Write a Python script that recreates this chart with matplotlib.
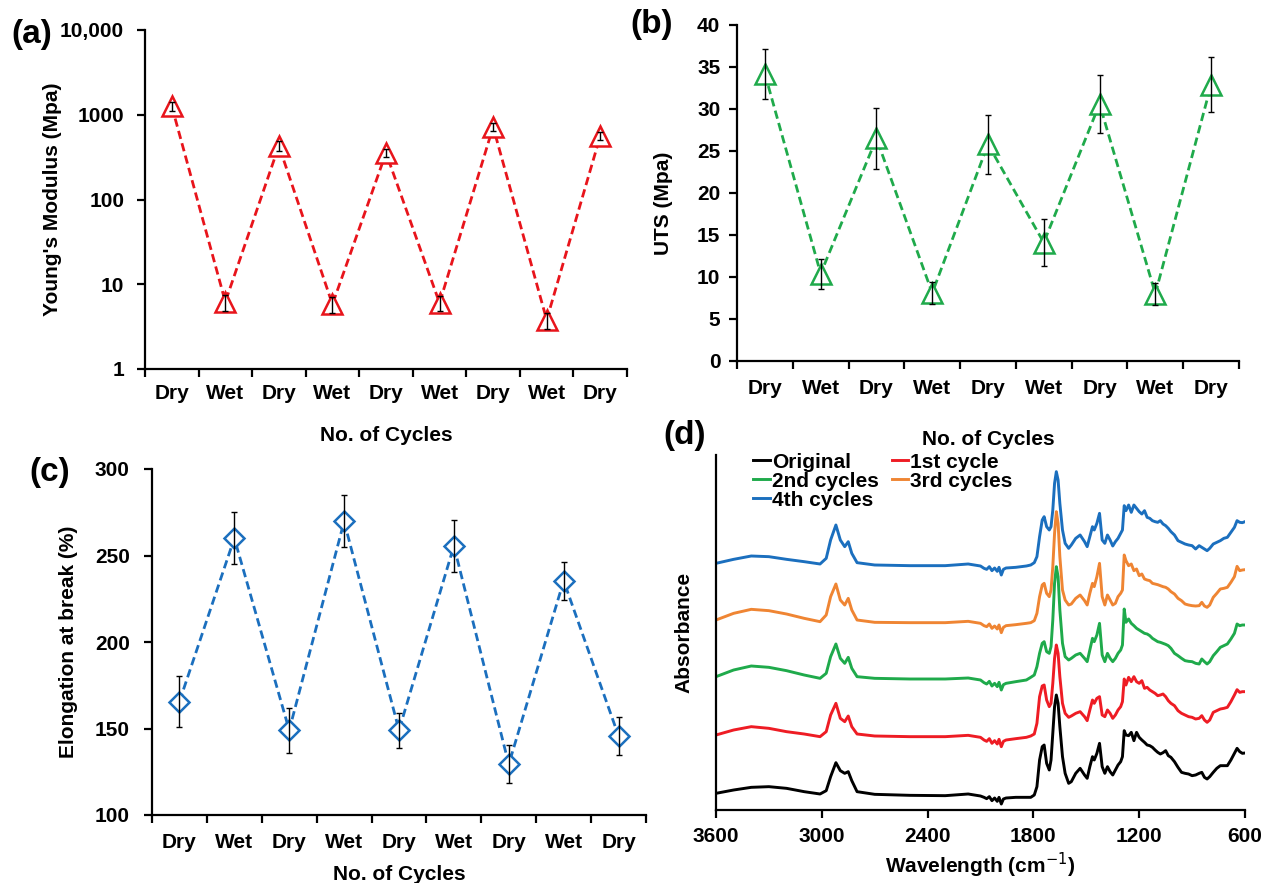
import numpy as np
import matplotlib
matplotlib.use('Agg')
import matplotlib.pyplot as plt
import matplotlib.ticker as mticker

plt.rcParams['font.family'] = ['Liberation Sans', 'DejaVu Sans']
plt.rcParams['axes.linewidth'] = 1.6

W, H = 1263, 883

# ---- data ----
cycles = ['Dry', 'Wet', 'Dry', 'Wet', 'Dry', 'Wet', 'Dry', 'Wet', 'Dry']

modulus = [1260, 6.2, 430, 5.8, 355, 6.0, 720, 3.8, 560]
modulus_err = [150, 1.3, 60, 1.2, 40, 1.2, 80, 0.8, 60]

uts = [34.2, 10.4, 26.5, 8.1, 25.8, 14.1, 30.6, 8.0, 32.9]
uts_err = [3.0, 1.8, 3.6, 1.3, 3.5, 2.8, 3.4, 1.3, 3.3]

elong = [165.6, 260.0, 149.0, 269.7, 149.0, 255.6, 129.3, 235.4, 145.7]
elong_err = [15, 15, 13, 15, 10, 15, 11, 11, 11]

# FTIR spectra, stacked (absorbance, arbitrary units)
wavenumber = [3600, 3500, 3400, 3300, 3200, 3100, 3010, 2975,
              2950, 2920, 2895, 2870, 2850, 2830, 2800, 2700,
              2500, 2300, 2170, 2100, 2080, 2065, 2050, 2035,
              2020, 2005, 1995, 1982, 1970, 1955, 1900, 1840,
              1815, 1795, 1780, 1765, 1750, 1739, 1725, 1710,
              1700, 1690, 1680, 1670, 1660, 1650, 1635, 1620,
              1600, 1585, 1560, 1535, 1510, 1495, 1480, 1465,
              1455, 1440, 1425, 1410, 1395, 1380, 1365, 1350,
              1335, 1320, 1305, 1295, 1285, 1275, 1260, 1245,
              1230, 1215, 1200, 1185, 1170, 1155, 1140, 1125,
              1110, 1095, 1080, 1065, 1050, 1035, 1020, 1000,
              980, 960, 940, 920, 900, 880, 860, 845,
              830, 815, 800, 780, 760, 740, 720, 700,
              680, 660, 645, 630, 615, 600]

original = [50, 60, 68, 70, 65, 55, 48, 58,
            100, 142, 118, 110, 115, 88, 55, 47,
            44, 43, 48, 42, 38, 34, 40, 28,
            36, 26, 38, 18, 33, 36, 38, 38,
            38, 45, 70, 150, 190, 195, 140, 120,
            150, 230, 310, 345, 320, 250, 160, 110,
            80, 85, 110, 125, 105, 95, 130, 160,
            150, 170, 200, 130, 110, 130, 115, 105,
            120, 135, 145, 160, 238, 225, 223, 233,
            208, 233, 218, 210, 203, 195, 193, 188,
            180, 173, 168, 172, 178, 163, 158, 145,
            128, 113, 110, 108, 103, 105, 110, 113,
            98, 93, 100, 113, 125, 133, 133, 133,
            150, 170, 185, 175, 170, 171]

cycle1 = [225, 240, 250, 245, 235, 228, 220, 235,
          285, 320, 275, 265, 282, 250, 228, 222,
          220, 220, 224, 218, 210, 206, 214, 200,
          208, 198, 212, 190, 206, 210, 214, 218,
          222, 228, 260, 340, 372, 375, 330, 310,
          320, 380, 455, 495, 470, 400, 320, 290,
          278, 282, 290, 295, 280, 268, 300, 330,
          320, 335, 340, 285, 280, 300, 290, 275,
          285, 300, 310, 325, 393, 375, 398, 385,
          400, 385, 380, 388, 365, 368, 360, 355,
          350, 343, 345, 348, 340, 328, 320, 313,
          298, 290, 285, 280, 278, 273, 275, 283,
          270, 263, 270, 293, 298, 303, 305, 308,
          325, 345, 361, 353, 355, 355]

cycle2 = [400, 420, 432, 428, 418, 405, 395, 410,
          460, 498, 455, 440, 458, 425, 400, 395,
          393, 393, 396, 390, 382, 378, 386, 372,
          380, 370, 383, 360, 376, 380, 385, 390,
          398, 405, 430, 470, 500, 505, 475, 470,
          490, 570, 680, 730, 700, 600, 500, 460,
          450, 455, 465, 470, 455, 445, 480, 515,
          505, 525, 560, 465, 445, 470, 455, 445,
          455, 470, 480, 495, 603, 563, 573, 560,
          553, 545, 540, 535, 530, 528, 523, 515,
          510, 505, 503, 500, 497, 493, 485, 470,
          463, 455, 448, 446, 445, 440, 438, 453,
          445, 438, 445, 463, 475, 488, 493, 498,
          513, 530, 558, 553, 555, 555]

cycle3 = [570, 590, 602, 598, 588, 575, 565, 585,
          640, 678, 630, 615, 635, 600, 570, 563,
          562, 562, 566, 560, 553, 550, 558, 545,
          552, 543, 555, 532, 548, 553, 556, 560,
          562, 568, 590, 640, 675, 680, 650, 640,
          660, 730, 830, 895, 860, 760, 660, 630,
          615, 618, 635, 645, 628, 615, 650, 680,
          670, 700, 740, 640, 615, 645, 630, 615,
          620, 640, 650, 660, 765, 748, 733, 738,
          718, 723, 703, 708, 693, 690, 688, 680,
          678, 676, 673, 670, 668, 663, 655, 648,
          635, 628, 618, 615, 613, 612, 613, 623,
          612, 608, 615, 638, 650, 663, 665, 668,
          683, 700, 731, 718, 720, 721]

cycle4 = [740, 752, 762, 760, 752, 745, 738, 755,
          810, 855, 810, 790, 805, 770, 742, 735,
          733, 733, 738, 732, 725, 722, 730, 718,
          726, 716, 728, 705, 722, 726, 728, 732,
          735, 742, 760, 820, 870, 880, 850, 840,
          850, 900, 980, 1015, 990, 920, 840, 800,
          785, 795, 815, 825, 805, 790, 820, 850,
          840, 860, 890, 810, 800, 825, 810, 792,
          805, 815, 830, 840, 913, 898, 915, 893,
          915, 905, 895, 888, 898, 878, 875, 868,
          865, 863, 868, 858, 853, 845, 835, 825,
          808, 803, 798, 795, 793, 783, 793, 788,
          783, 778, 785, 798, 803, 808, 815, 818,
          833, 848, 868, 863, 862, 865]

spectra = [('Original', original, 'black'),
           ('2nd cycles', cycle2, '#1FAA4B'),
           ('4th cycles', cycle4, '#1B6FBE'),
           ('1st cycle', cycle1, '#EE1C24'),
           ('3rd cycles', cycle3, '#EF8533')]

TICK_FS = 15
LAB_FS = 15


def axes_px(left, top, right, bottom):
    return [left / W, 1 - bottom / H, (right - left) / W, (bottom - top) / H]


def cycle_axis(ax, ypad, xpad):
    x = np.arange(1, len(cycles) + 1)
    ax.set_xlim(0.5, len(cycles) + 0.5)
    ax.set_xticks(np.arange(0.5, len(cycles) + 1, 1))
    ax.set_xticklabels([])
    ax.set_xticks(x, minor=True)
    ax.set_xticklabels(cycles, minor=True, fontsize=TICK_FS, fontweight='bold')
    ax.tick_params(axis='x', which='major', direction='out', length=6, width=1.6)
    ax.tick_params(axis='x', which='minor', length=0, pad=xpad)
    ax.tick_params(axis='y', direction='out', length=6, width=1.6,
                   labelsize=TICK_FS, pad=ypad)
    for lab in ax.get_yticklabels():
        lab.set_fontweight('bold')
    ax.spines['top'].set_visible(False)
    ax.spines['right'].set_visible(False)
    return x


fig = plt.figure(figsize=(W / 100, H / 100), dpi=100)

# (a) Young's modulus
ax_a = fig.add_axes(axes_px(145, 30, 627, 369))
ax_a.set_yscale('log')
ax_a.set_ylim(1, 10000)
ax_a.set_yticks([1, 10, 100, 1000, 10000])
ax_a.set_yticklabels(['1', '10', '100', '1000', '10,000'])
ax_a.yaxis.set_minor_locator(mticker.NullLocator())
x = cycle_axis(ax_a, 9, 11)
ax_a.plot(x, modulus, ls='--', color='#E8141B', lw=2, dashes=(3, 1.6),
          marker='^', ms=14, mfc='white', mec='#E8141B', mew=1.8, zorder=3)
ax_a.errorbar(x, modulus, yerr=modulus_err, fmt='none', ecolor='black',
              elinewidth=1, capsize=2, zorder=4)
ax_a.set_ylabel("Young's Modulus (Mpa)", fontsize=LAB_FS, fontweight='bold')
ax_a.yaxis.set_label_coords(-0.172, 0.5)
ax_a.set_xlabel('No. of Cycles', fontsize=LAB_FS, fontweight='bold')
ax_a.xaxis.set_label_coords(0.5, -0.168)

# (b) UTS
ax_b = fig.add_axes(axes_px(737, 25, 1239, 361))
ax_b.set_ylim(0, 40)
ax_b.set_yticks(np.arange(0, 41, 5))
x = cycle_axis(ax_b, 6, 13)
ax_b.plot(x, uts, ls='--', color='#1FAA4B', lw=2, dashes=(3, 1.6),
          marker='^', ms=14, mfc='white', mec='#1FAA4B', mew=1.8, zorder=3)
ax_b.errorbar(x, uts, yerr=uts_err, fmt='none', ecolor='black',
              elinewidth=1, capsize=2, zorder=4)
ax_b.set_ylabel('UTS (Mpa)', fontsize=LAB_FS, fontweight='bold')
ax_b.yaxis.set_label_coords(-0.127, 0.47)
ax_b.set_xlabel('No. of Cycles', fontsize=LAB_FS, fontweight='bold')
ax_b.xaxis.set_label_coords(0.5, -0.205)

# (c) Elongation at break
ax_c = fig.add_axes(axes_px(152, 469, 646, 815))
ax_c.set_ylim(100, 300)
ax_c.set_yticks(np.arange(100, 301, 50))
x = cycle_axis(ax_c, 10, 13)
ax_c.plot(x, elong, ls='--', color='#1B6FBE', lw=2, dashes=(3, 1.6),
          marker='D', ms=10.5, mfc='white', mec='#1B6FBE', mew=1.8, zorder=3)
ax_c.errorbar(x, elong, yerr=elong_err, fmt='none', ecolor='black',
              elinewidth=1, capsize=2, zorder=4)
ax_c.set_ylabel('Elongation at break (%)', fontsize=LAB_FS, fontweight='bold')
ax_c.yaxis.set_label_coords(-0.15, 0.5)
ax_c.set_xlabel('No. of Cycles', fontsize=LAB_FS, fontweight='bold')
ax_c.xaxis.set_label_coords(0.5, -0.145)

# (d) FTIR
ax_d = fig.add_axes(axes_px(716, 455, 1245, 810))
for name, vals, col in spectra:
    ax_d.plot(wavenumber, vals, color=col, lw=2.1, label=name)
ax_d.set_xlim(3600, 600)
ax_d.set_ylim(0, 1065)
ax_d.set_xticks(np.arange(3600, 599, -600))
ax_d.set_yticks([])
ax_d.tick_params(axis='x', direction='out', length=6, width=1.6, labelsize=TICK_FS, pad=6)
for lab in ax_d.get_xticklabels():
    lab.set_fontweight('bold')
ax_d.spines['top'].set_visible(False)
ax_d.spines['right'].set_visible(False)
ax_d.set_xlabel('Wavelength (cm$^{-1}$)', fontsize=LAB_FS, fontweight='bold')
ax_d.xaxis.set_label_coords(0.5, -0.115)
ax_d.set_ylabel('Absorbance', fontsize=LAB_FS, fontweight='bold')
ax_d.yaxis.set_label_coords(-0.043, 0.5)
ax_d.legend(loc='upper left', ncol=2, frameon=False,
            prop={'weight': 'bold', 'size': 15}, handlelength=0.8,
            handletextpad=0.1, columnspacing=0.6, labelspacing=0.0,
            borderaxespad=0.0, bbox_to_anchor=(0.055, 1.03))

# panel letters
for lbl, px, py in [('(a)', 32, 35), ('(b)', 652, 25), ('(c)', 50, 472), ('(d)', 685, 436)]:
    fig.text(px / W, 1 - py / H, lbl, fontsize=24, fontweight='bold',
             ha='center', va='center')

fig.savefig('out.png', dpi=100)
